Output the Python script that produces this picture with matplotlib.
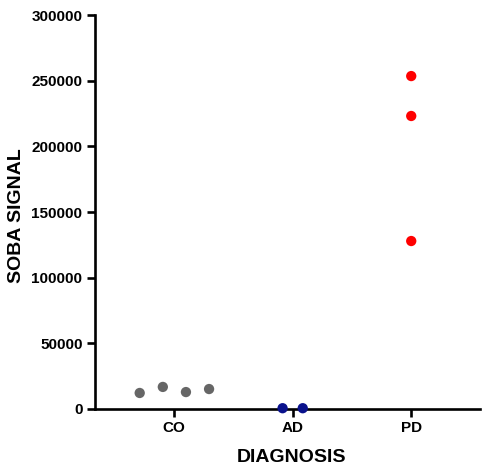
import matplotlib
matplotlib.use("Agg")
import matplotlib.pyplot as plt
import numpy as np

plt.rcParams['font.family'] = ['Liberation Sans', 'DejaVu Sans']
plt.rcParams['font.weight'] = 'bold'

# Groups and measured signal per sample
categories = ["CO", "AD", "PD"]
co_values = [12200, 16800, 12900, 15200]
ad_values = [600, 600]
pd_values = [253500, 223100, 127900]
# horizontal scatter of points within each group
co_offsets = [-0.29, -0.095, 0.10, 0.295]
ad_offsets = [-0.085, 0.085]
pd_offsets = [0.0, 0.0, 0.0]

y_ticks = [0, 50000, 100000, 150000, 200000, 250000, 300000]

fig = plt.figure(figsize=(4.88, 4.68), dpi=100)
ax = fig.add_axes([95/488, 1-409/468, 385/488, 394/468])

groups = [
    (co_values, co_offsets, "#666666"),
    (ad_values, ad_offsets, "#0a128c"),
    (pd_values, pd_offsets, "#ff0000"),
]
for i, (vals, offs, color) in enumerate(groups):
    xs = [i + 1 + o for o in offs]
    ax.scatter(xs, vals, s=55, color=color, edgecolors='none', zorder=3, clip_on=False)

ax.set_xlim(1 - 0.667, 3 + 0.58)
ax.set_ylim(0, 300000)
ax.set_xticks([1, 2, 3])
ax.set_xticklabels(categories)
ax.set_yticks(y_ticks)
ax.set_yticklabels([str(v) for v in y_ticks])

for s in ["top", "right"]:
    ax.spines[s].set_visible(False)
for s in ["left", "bottom"]:
    ax.spines[s].set_linewidth(1.9)
ax.tick_params(axis='both', length=6, width=1.9, labelsize=11, pad=3)
for lab in ax.get_xticklabels() + ax.get_yticklabels():
    lab.set_fontweight('bold')

# Axis titles placed in figure coordinates
fig.text(292/488, 1-457/468, "DIAGNOSIS", fontsize=14, fontweight='bold',
         ha='center', va='center')
fig.text(16.5/488, 1-216/468, "SOBA SIGNAL", fontsize=14, fontweight='bold',
         ha='center', va='center', rotation=90)

fig.savefig("out.png", dpi=100)
